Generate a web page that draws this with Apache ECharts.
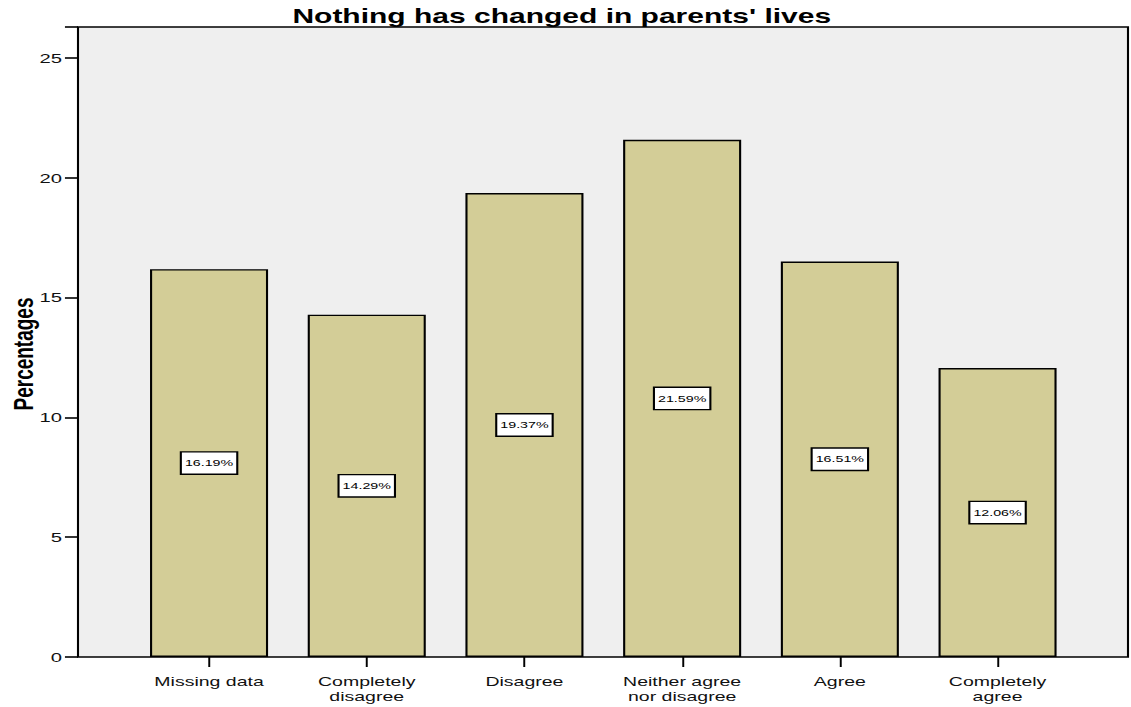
<!DOCTYPE html>
<html><head><meta charset="utf-8">
<script src="https://cdn.jsdelivr.net/npm/echarts@6/dist/echarts.min.js"></script>
<style>
html,body{margin:0;padding:0;background:#fff;overflow:hidden}
#wrap{width:1131px;height:707px;overflow:hidden}
#c{width:754px;height:707px;transform:scaleX(1.5);transform-origin:0 0}
</style>
</head><body><div id="wrap"><div id="c"></div></div>
<script>
const categories = ['Missing data', 'Completely\ndisagree', 'Disagree', 'Neither agree\nnor disagree', 'Agree', 'Completely\nagree'];
const percentages = [16.19, 14.29, 19.37, 21.59, 16.51, 12.06];
const yTicks = [0, 5, 10, 15, 20, 25];
const titleText = "Nothing has changed in parents' lives";
const yName = 'Percentages';

const chart = echarts.init(document.getElementById('c'), null, {renderer: 'svg', width: 754, height: 707});
const yMax = 26.3;
const FONT = 'Liberation Sans, Arial, Helvetica, sans-serif';
chart.setOption({
  animation: false,
  backgroundColor: '#ffffff',
  title: {
    text: titleText, left: 369.5, top: 1, textAlign: 'center',
    textStyle: {fontFamily: FONT, fontWeight: 'bold', fontSize: 20, color: '#000'}
  },
  grid: [
    {left: 52, right: 2, top: 27, bottom: 50, show: true, backgroundColor: '#efefef', borderColor: '#000', borderWidth: 1.4, outerBoundsMode: 'none', containLabel: false},
    {left: 86.8, right: 36.4, top: 27, bottom: 50, outerBoundsMode: 'none', containLabel: false}
  ],
  xAxis: [
    {gridIndex: 0, type: 'value', show: false, min: 0, max: 1},
    {gridIndex: 1, type: 'category', data: categories,
     axisLine: {show: false},
     axisTick: {show: true, alignWithLabel: true, length: 10, lineStyle: {color: '#000', width: 1.3}},
     axisLabel: {margin: 17, color: '#111', fontFamily: FONT, fontSize: 13, lineHeight: 15, interval: 0}}
  ],
  yAxis: [
    {gridIndex: 0, type: 'value', min: 0, max: yMax, interval: 5,
     name: yName, nameLocation: 'middle', nameGap: 27, nameRotate: 90, nameMoveOverlap: false,
     nameTextStyle: {fontFamily: FONT, fontWeight: 'bold', fontSize: 19, color: '#000', padding: [0, 24, 0, 0]},
     axisLine: {show: false},
     axisTick: {show: true, inside: false, length: 8.7, lineStyle: {color: '#000', width: 1.6}},
     splitLine: {show: false},
     axisLabel: {margin: 10.7, color: '#111', fontFamily: FONT, fontSize: 13.5,
       formatter: v => yTicks.includes(v) ? String(v) : ''}},
    {gridIndex: 1, type: 'value', min: 0, max: yMax, show: false}
  ],
  series: [{
    type: 'bar', xAxisIndex: 1, yAxisIndex: 1, data: percentages, barWidth: 78.7,
    itemStyle: {color: '#d3cd97', borderColor: '#000', borderWidth: 1.4},
    label: {show: true, position: 'inside', formatter: p => p.value.toFixed(2) + '%',
      color: '#000', fontFamily: FONT, fontSize: 9.5, lineHeight: 10,
      backgroundColor: '#fff', borderColor: '#000', borderWidth: 1.4, padding: [6, 2, 5, 2]}
  }]
});
</script></body></html>
